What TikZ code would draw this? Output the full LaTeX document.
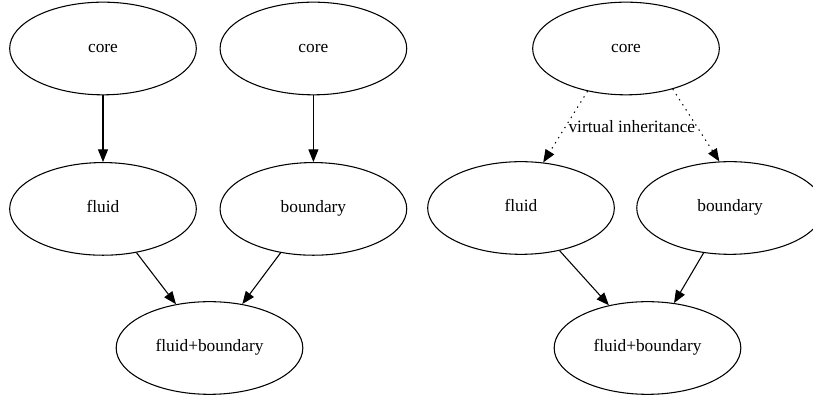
\documentclass[tikz,border=0pt]{standalone}
\usepackage{fontspec}
\setmainfont{Liberation Serif}
\usepackage{tikz}
\usetikzlibrary{positioning, arrows.meta, shapes.geometric}

\begin{document}
\begin{tikzpicture}[
    x=0.75pt, y=0.75pt,
    cls/.style={draw, ellipse, line width=0.8pt, minimum width=140pt,
                minimum height=69.5pt, inner sep=0pt,
                text height=9pt, text depth=3pt,
                font=\fontsize{13}{15}\selectfont},
    arr/.style={-{Triangle[length=9.5pt, width=7.5pt]}, line width=0.8pt},
    varr/.style={arr, dash pattern=on 1pt off 3.5pt}
  ]
    \useasboundingbox (0,0) rectangle (813,395);
    % Plain inheritance (left)
    \node[cls] (core1) at (103,346.5) {core};
    \node[cls, right=17pt of core1] (core2) {core};
    \node[cls, below=50pt of core1] (fluid1) {fluid};
    \node[cls, below=50pt of core2] (bnd1) {boundary};
    \node[cls] (fb1) at (209.5,47) {fluid+boundary};
    % Virtual inheritance (right)
    \node[cls] (core3) at (626,346.5) {core};
    \node[cls] (fluid3) at (521,187) {fluid};
    \node[cls, right=16pt of fluid3] (bnd3) {boundary};
    \node[cls] (fb3) at (647.5,47) {fluid+boundary};
    % Arrows
    \draw[arr] (core1) -- (fluid1);
    \draw[arr] (core2) -- (bnd1);
    \draw[arr] (fluid1) -- (fb1);
    \draw[arr] (bnd1) -- (fb1);
    \draw[varr] (core3.228) -- node[right, inner sep=2pt, font=\fontsize{13}{15}\selectfont] (vlabel) {virtual inheritance} (fluid3.64);
    \draw[varr] (core3.319) -- (bnd3.103);
    \draw[arr] (fluid3) -- (fb3);
    \draw[arr] (bnd3) -- (fb3);
  \end{tikzpicture}
\end{document}
